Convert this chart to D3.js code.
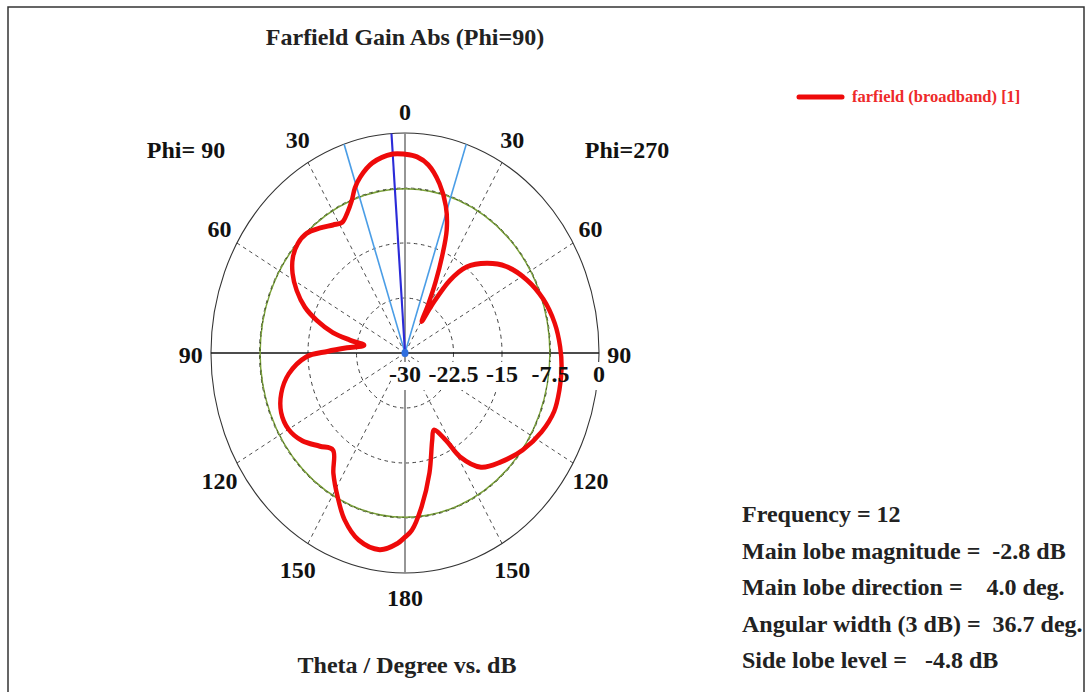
<!DOCTYPE html>
<html>
<head>
<meta charset="utf-8">
<script src="https://cdn.jsdelivr.net/npm/d3@7"></script>
<style>
  html, body { margin: 0; padding: 0; background: #fff; }
  svg { display: block; }
  text { font-family: "Liberation Serif", "Times New Roman", serif; font-weight: bold; }
</style>
</head>
<body>
<svg id="chart" width="1086" height="692"></svg>
<script>
const phi90Theta = [0, 4, 11, 16, 19, 21.5, 25, 28.5, 32.5, 37.5, 43, 48, 53, 58, 63, 68, 72, 76, 78.3, 80.5, 85.5, 89, 92, 99, 106, 113, 120, 127, 134, 140, 146, 152, 157.7, 164.3, 171.7, 177.4, 180];
const phi90Gain = [-2.9, -2.8, -3.6, -5.0, -6.2, -7.6, -8.9, -9.7, -9.3, -8.5, -7.7, -7.7, -8.3, -9.5, -11.2, -13.3, -15.7, -18.5, -21.3, -23.6, -21.0, -18.0, -14.7, -11.8, -10.1, -9.2, -9.2, -10.1, -11.7, -12.7, -10.2, -7.8, -5.4, -3.5, -2.9, -4.0, -4.9];

const phi270Theta = [0, 4, 8, 13, 17.5, 21, 23.5, 26, 28.5, 31, 32.5, 35, 39, 46, 53, 62, 71, 80, 88, 95, 102, 109, 117, 126, 135, 143, 149, 152, 157, 160.5, 167, 173, 177.5, 180];
const phi270Gain = [-2.9, -3.2, -4.1, -6.3, -9.0, -12.0, -15.6, -19.2, -22.5, -25.0, -22.2, -17.9, -14.9, -12.4, -10.4, -8.7, -7.4, -6.5, -6.0, -5.7, -5.6, -5.6, -6.3, -7.5, -9.0, -10.5, -13.5, -16.5, -18.6, -17.4, -13.2, -8.9, -5.8, -4.9];

const angleTicks = [0, 30, 60, 90, 120, 150, 180];
const dbTicks = [-30, -22.5, -15, -7.5, 0];
const dbTickLabels = ["-30", "-22.5", "-15", "-7.5", "0"];

const mainLobeDir = -4.0;          // drawn on the Phi=90 side
const beamEdges = [-18.3, 18.4];   // 3 dB angular width lines
const sideLobeRing = -7.6;         // main lobe magnitude + side lobe level

const infoLines = [
  "Frequency = 12",
  "Main lobe magnitude =  -2.8 dB",
  "Main lobe direction =    4.0 deg.",
  "Angular width (3 dB) =  36.7 deg.",
  "Side lobe level =   -4.8 dB"
];
const legendLabel = "farfield (broadband) [1]";

// the plot is squeezed horizontally: it is drawn round and then scaled in x
const SX = 0.882;
const R = 220;
const CX = 405, CY = 353;
const FONT = 24;

const svg = d3.select("#chart");
svg.append("rect")
  .attr("x", 8).attr("y", 7).attr("width", 1076).attr("height", 700)
  .attr("fill", "#fff").attr("stroke", "#333").attr("stroke-width", 1.5);

const r = d3.scaleLinear().domain([-30, 0]).range([0, R]);
const rad = d => d * Math.PI / 180;

const g = svg.append("g").attr("transform", `translate(${CX},${CY}) scale(${SX},1)`);

// dashed rings
g.selectAll("circle.ring")
  .data(dbTicks.filter(d => d > -30 && d < 0))
  .join("circle")
  .attr("class", "ring")
  .attr("r", d => r(d))
  .attr("fill", "none")
  .attr("stroke", "#333")
  .attr("stroke-width", 1)
  .attr("stroke-dasharray", "4,4");

// dashed spokes
const spokes = [30, 60, 120, 150, -30, -60, -120, -150];
g.selectAll("line.spoke")
  .data(spokes)
  .join("line")
  .attr("class", "spoke")
  .attr("x1", 0).attr("y1", 0)
  .attr("x2", d => R * Math.sin(rad(d)))
  .attr("y2", d => -R * Math.cos(rad(d)))
  .attr("stroke", "#444")
  .attr("stroke-width", 1)
  .attr("stroke-dasharray", "4,4");

// outer ring
g.append("circle")
  .attr("r", r(0))
  .attr("fill", "none")
  .attr("stroke", "#333")
  .attr("stroke-width", 1.2);

// vertical axis (gray) and horizontal axis (black)
g.append("line")
  .attr("x1", 0).attr("y1", -R).attr("x2", 0).attr("y2", R)
  .attr("stroke", "#888").attr("stroke-width", 2);
g.append("line")
  .attr("x1", -R).attr("y1", 0).attr("x2", R).attr("y2", 0)
  .attr("stroke", "#111").attr("stroke-width", 1.3);

// white band behind the dB labels
g.append("rect")
  .attr("x", -16).attr("y", 9).attr("width", R + 22).attr("height", 28)
  .attr("fill", "#fff");

// side lobe ring (green) with the -7.5 dashes over it
g.append("circle")
  .attr("r", r(sideLobeRing))
  .attr("fill", "none")
  .attr("stroke", "#7ba23a")
  .attr("stroke-width", 1.6);
g.append("circle")
  .attr("r", r(sideLobeRing))
  .attr("fill", "none")
  .attr("stroke", "#3a4a20")
  .attr("stroke-width", 1)
  .attr("stroke-dasharray", "2,5");

// beam width lines and main lobe direction
g.selectAll("line.beam")
  .data(beamEdges)
  .join("line")
  .attr("class", "beam")
  .attr("x1", 0).attr("y1", 0)
  .attr("x2", d => R * Math.sin(rad(d)))
  .attr("y2", d => -R * Math.cos(rad(d)))
  .attr("stroke", "#4a9de6")
  .attr("stroke-width", 1.8);
g.append("line")
  .attr("x1", 0).attr("y1", 0)
  .attr("x2", R * Math.sin(rad(mainLobeDir)))
  .attr("y2", -R * Math.cos(rad(mainLobeDir)))
  .attr("stroke", "#2b2bd8")
  .attr("stroke-width", 2.4);
g.append("circle")
  .attr("r", 4)
  .attr("fill", "#2f6fe0");

// farfield curve: Phi=270 half on the right, Phi=90 half on the left
const pts = phi270Theta.map((t, i) => [rad(t), r(phi270Gain[i])]);
for (let i = phi90Theta.length - 2; i > 0; i--) {
  pts.push([rad(360 - phi90Theta[i]), r(phi90Gain[i])]);
}
const radial = d3.lineRadial()
  .angle(d => d[0])
  .radius(d => d[1])
  .curve(d3.curveCatmullRomClosed.alpha(0.5));
g.append("path")
  .attr("d", radial(pts))
  .attr("fill", "none")
  .attr("stroke", "#ee0a0a")
  .attr("stroke-width", 5)
  .attr("stroke-linejoin", "round");

// labels are not squeezed
const t = svg.append("g").attr("transform", `translate(${CX},${CY})`);

t.selectAll("text.db")
  .data(dbTicks)
  .join("text")
  .attr("class", "db")
  .attr("x", d => SX * r(d))
  .attr("y", 29)
  .attr("text-anchor", "middle")
  .attr("font-size", FONT)
  .attr("fill", "#111")
  .text((d, i) => dbTickLabels[i]);

const rimR = R + 23;
const rimLabels = angleTicks.flatMap(a => (a === 0 || a === 180) ? [a] : [a, -a]);
t.selectAll("text.ang")
  .data(rimLabels)
  .join("text")
  .attr("class", "ang")
  .attr("x", d => SX * rimR * Math.sin(rad(d)))
  .attr("y", d => -rimR * Math.cos(rad(d)) + 2 - 5 * Math.sin(rad(2 * Math.abs(d))))
  .attr("text-anchor", "middle")
  .attr("dominant-baseline", "central")
  .attr("font-size", FONT)
  .attr("fill", "#111")
  .text(d => Math.abs(d));

// titles
svg.append("text")
  .attr("x", CX).attr("y", 45)
  .attr("text-anchor", "middle")
  .attr("font-size", FONT)
  .attr("fill", "#222")
  .text("Farfield Gain Abs (Phi=90)");
svg.append("text")
  .attr("x", 186).attr("y", 158)
  .attr("text-anchor", "middle")
  .attr("font-size", FONT)
  .attr("fill", "#111")
  .text("Phi= 90");
svg.append("text")
  .attr("x", 627).attr("y", 158)
  .attr("text-anchor", "middle")
  .attr("font-size", FONT)
  .attr("fill", "#111")
  .text("Phi=270");
svg.append("text")
  .attr("x", CX + 2).attr("y", 673)
  .attr("text-anchor", "middle")
  .attr("font-size", FONT)
  .attr("fill", "#222")
  .text("Theta / Degree vs. dB");

// legend
svg.append("line")
  .attr("x1", 799).attr("x2", 842)
  .attr("y1", 97).attr("y2", 97)
  .attr("stroke", "#ee0a0a")
  .attr("stroke-width", 5)
  .attr("stroke-linecap", "round");
svg.append("text")
  .attr("x", 852).attr("y", 102)
  .attr("font-size", 16.5)
  .attr("fill", "#ee2a2a")
  .text(legendLabel);

// info block
svg.selectAll("text.info")
  .data(infoLines)
  .join("text")
  .attr("class", "info")
  .attr("x", 742)
  .attr("y", (d, i) => 522 + i * 36.5)
  .attr("font-size", FONT)
  .attr("fill", "#222")
  .style("white-space", "pre")
  .text(d => d);
</script>
</body>
</html>
